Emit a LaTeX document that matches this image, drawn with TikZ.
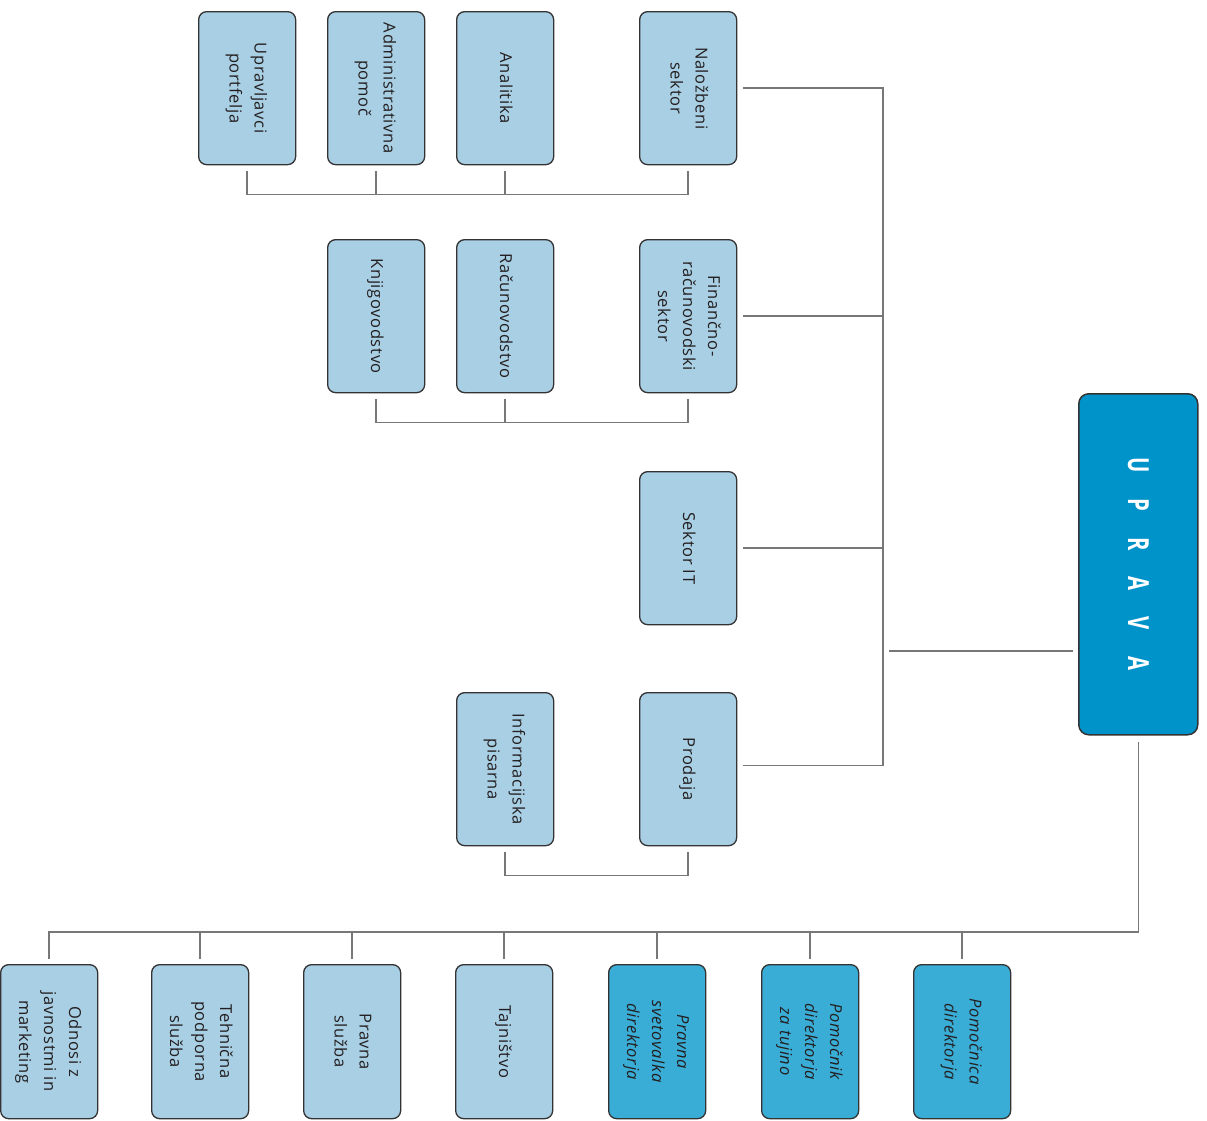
\documentclass[tikz,border=0pt]{standalone}
\usepackage{fontspec}
\setmainfont{Open Sans}[LetterSpace=4]
\newfontfamily\upfont{Open Sans}[FakeStretch=0.7]
\definecolor{lightbox}{HTML}{A9CFE4}
\definecolor{midbox}{HTML}{3AADD6}
\definecolor{darkbox}{HTML}{0093C9}
\definecolor{boxline}{HTML}{333333}
\definecolor{txt}{HTML}{231F20}
\definecolor{conn}{HTML}{777777}
\newcommand\rtext[1]{\rotatebox{-90}{\begin{tabular}{@{}c@{}}#1\end{tabular}}}
\tikzset{
  unit/.style={draw=boxline, line width=1.3pt, rounded corners=8pt, fill=lightbox,
    minimum width=97pt, minimum height=153pt, inner sep=0pt, anchor=north west,
    text=txt, font=\fontsize{16.5}{25}\selectfont},
  aide/.style={unit, fill=midbox, font=\fontsize{16.5}{25}\selectfont\itshape},
  head/.style={draw=boxline, line width=1.5pt, rounded corners=10pt, fill=darkbox,
    minimum width=119pt, minimum height=341pt, inner sep=0pt, anchor=north west,
    text=white, font=\upfont\bfseries\fontsize{29}{29}\selectfont},
  link/.style={draw=conn, line width=1.4pt}
}
\begin{document}
\begin{tikzpicture}[x=1pt,y=-1pt]
\useasboundingbox (0,0) rectangle (1207,1120);
% top row
\node[unit] (upr) at (198,11) {\rtext{Upravljavci\\portfelja}};
\node[unit] (adm) at (327,11) {\rtext{Administrativna\\pomoč}};
\node[unit] (ana) at (456,11) {\rtext{Analitika}};
\node[unit] (nal) at (639,11) {\rtext{Naložbeni\\sektor}};
% second row
\node[unit] (knj) at (327,239) {\rtext{Knjigovodstvo}};
\node[unit] (rac) at (456,239) {\rtext{Računovodstvo}};
\node[unit] (fin) at (639,239) {\rtext{Finančno-\\računovodski\\sektor}};
% IT
\node[unit] (it) at (639,471) {\rtext{Sektor IT}};
% sales
\node[unit] (inf) at (456,692) {\rtext{Informacijska\\pisarna}};
\node[unit] (pro) at (639,692) {\rtext{Prodaja}};
% head
\node[head] (upv) at (1078,393) {\rotatebox{-90}{\makebox[39.5pt]{U}\makebox[39.5pt]{P}\makebox[39.5pt]{R}\makebox[39.5pt]{A}\makebox[39.5pt]{V}\makebox[39.5pt]{A}}};
% bottom row
\node[unit, minimum height=154pt] (odn) at (0,964) {\rtext{Odnosi z\\javnostmi in\\marketing}};
\node[unit, minimum height=154pt] (teh) at (151,964) {\rtext{Tehnična\\podporna\\služba}};
\node[unit, minimum height=154pt] (prs) at (303,964) {\rtext{Pravna\\služba}};
\node[unit, minimum height=154pt] (taj) at (455,964) {\rtext{Tajništvo}};
\node[aide, minimum height=154pt] (psd) at (608,964) {\rtext{Pravna\\svetovalka\\direktorja}};
\node[aide, minimum height=154pt] (pdt) at (761,964) {\rtext{Pomočnik\\direktorja\\za tujino}};
\node[aide, minimum height=154pt] (pmd) at (913,964) {\rtext{Pomočnica\\direktorja}};
% bus
\coordinate (bus) at (883,400);
\coordinate (busj) at (889,651);
% top group
\draw[link] ([yshift=-6pt]upr.south) |- ([yshift=-29pt]nal.south) -- ([yshift=-6pt]nal.south);
\draw[link] ([yshift=-6pt]adm.south) -- ++(0,23);
\draw[link] ([yshift=-6pt]ana.south) -- ++(0,23);
% second group
\draw[link] ([yshift=-6pt]knj.south) |- ([yshift=-29pt]fin.south) -- ([yshift=-6pt]fin.south);
\draw[link] ([yshift=-6pt]rac.south) -- ++(0,23);
% sales group
\draw[link] ([yshift=-6pt]inf.south) |- ([yshift=-29pt]pro.south) -- ([yshift=-6pt]pro.south);
% main bus
\draw[link] ([xshift=6pt]nal.east) -| (bus) |- ([xshift=6pt,yshift=3.5pt]pro.east);
\draw[link] ([xshift=6pt]fin.east) -- (fin.east -| bus);
\draw[link] ([xshift=6pt]it.east) -- (it.east -| bus);
\draw[link] (busj) -- ([xshift=-5pt]busj -| upv.west);
% bottom bus
\draw[link] ([yshift=-6pt]upv.south) |- ([yshift=32pt]odn.north) -- ([yshift=5pt]odn.north);
\foreach \n in {teh,prs,taj,psd,pdt,pmd}{
  \draw[link] ([yshift=5pt]\n.north) -- ++(0,-27);
}
\end{tikzpicture}
\end{document}
